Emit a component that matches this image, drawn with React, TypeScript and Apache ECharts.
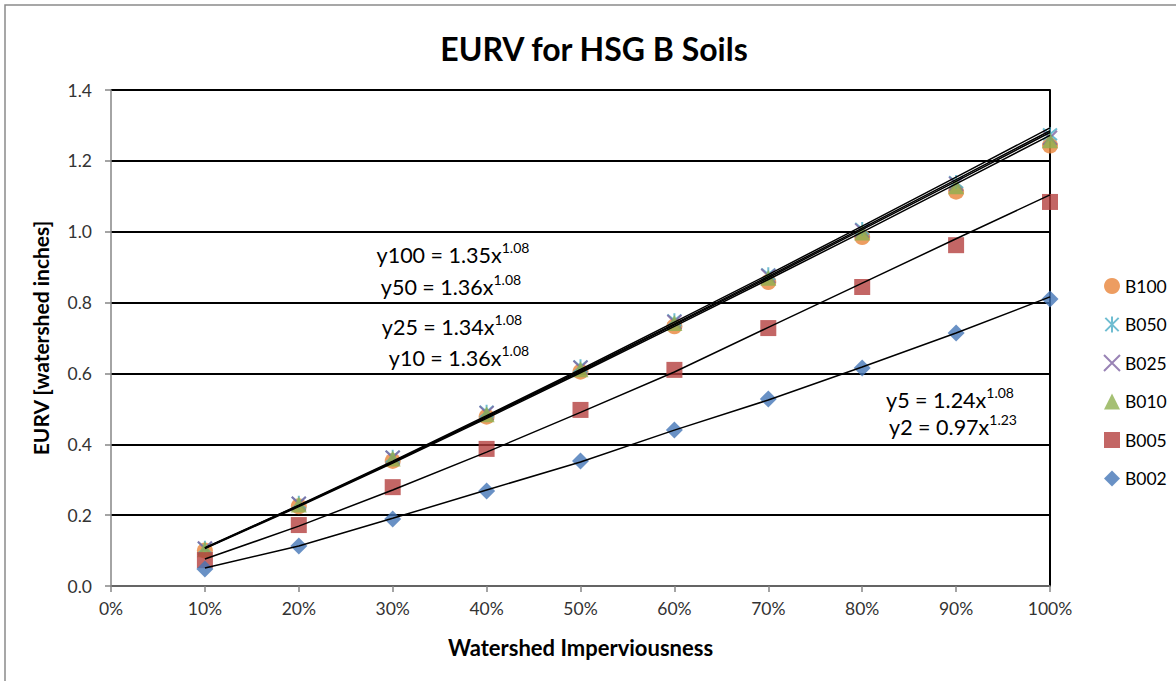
import React, { useEffect, useRef } from "react";
import * as echarts from "echarts";

const xValues = [0.1, 0.2, 0.3, 0.4, 0.5, 0.6, 0.7, 0.8, 0.9, 1.0];

const seriesNames = ["B100", "B050", "B025", "B010", "B005", "B002"];

const b100 = [0.100, 0.225, 0.353, 0.478, 0.605, 0.733, 0.858, 0.985, 1.113, 1.243];
const b050 = [0.108, 0.235, 0.365, 0.492, 0.620, 0.750, 0.880, 1.008, 1.140, 1.275];
const b025 = [0.106, 0.232, 0.362, 0.488, 0.616, 0.745, 0.875, 1.003, 1.135, 1.265];
const b010 = [0.104, 0.230, 0.360, 0.485, 0.612, 0.742, 0.870, 0.998, 1.128, 1.258];
const b005 = [0.073, 0.172, 0.279, 0.387, 0.497, 0.610, 0.728, 0.844, 0.962, 1.084];
const b002 = [0.048, 0.113, 0.189, 0.268, 0.353, 0.440, 0.528, 0.615, 0.714, 0.810];

// trendlines
const t100 = [0.106, 0.224, 0.347, 0.473, 0.602, 0.733, 0.865, 0.999, 1.135, 1.272];
const t050 = [0.108, 0.228, 0.352, 0.481, 0.611, 0.745, 0.879, 1.016, 1.154, 1.293];
const t025 = [0.107, 0.227, 0.350, 0.478, 0.608, 0.740, 0.874, 1.010, 1.147, 1.285];
const t010 = [0.107, 0.226, 0.349, 0.476, 0.605, 0.737, 0.870, 1.006, 1.142, 1.280];
const t005 = [0.076, 0.169, 0.271, 0.378, 0.490, 0.604, 0.730, 0.855, 0.980, 1.104];
const t002 = [0.051, 0.113, 0.191, 0.271, 0.350, 0.440, 0.525, 0.618, 0.714, 0.816];

const eqMain = ["y100 = 1.35x", "y50 = 1.36x", "y25 = 1.34x", "y10 = 1.36x", "y5 = 1.24x", "y2 = 0.97x"];
const eqExp = ["1.08", "1.08", "1.08", "1.08", "1.08", "1.23"];

const FONT = "Lato, 'Noto Sans', sans-serif";

const pts = (vals: number[]) => xValues.map((x, i) => [x, vals[i]]);

export default function App() {
  const ref = useRef<HTMLDivElement>(null);
  useEffect(() => {
    if (!ref.current) return;
    const chart = echarts.init(ref.current, null, { renderer: "svg" });

    const colors = ["#E8853A", "#4BACC6", "#8064A2", "#8EB050", "#B4403E", "#4375B6"];
    const symbols = [
      "circle",
      "path://M0,0L10,10M10,0L0,10M5,-1L5,11",
      "path://M0,0L10,10M10,0L0,10",
      "triangle",
      "rect",
      "diamond",
    ];
    const sizes = [16, 14, 14, 16, 16, 17];
    const values = [b100, b050, b025, b010, b005, b002];
    const trends = [t100, t050, t025, t010, t005, t002];

    const scatterSeries = seriesNames.map((name, i) => {
      const stroked = i === 1 || i === 2;
      return {
        name,
        type: "scatter",
        data: pts(values[i]),
        symbol: symbols[i],
        symbolSize: sizes[i],
        z: 2,
        itemStyle: stroked
          ? { color: "rgba(0,0,0,0)", borderColor: colors[i], borderWidth: 2 }
          : { color: colors[i] },
        emphasis: { disabled: true },
      };
    });

    const trendSeries = trends.map((t, i) => ({
      name: "trend" + i,
      type: "line",
      data: pts(t),
      showSymbol: false,
      symbol: "none",
      smooth: false,
      z: 3,
      lineStyle: { color: "#000", width: 1.5 },
      emphasis: { disabled: true },
      silent: true,
    }));

    const eqPos = [
      [453, 253],
      [451, 285],
      [452, 325],
      [459, 356],
      [950, 398],
      [953, 425],
    ];

    const eqGraphics = eqMain.map((m, i) => ({
      type: "text",
      x: eqPos[i][0],
      y: eqPos[i][1],
      z: 10,
      style: {
        text: "{a|" + m + "}{b|" + eqExp[i] + "}",
        align: "center",
        verticalAlign: "middle",
        rich: {
          a: { fontSize: 21.5, fontFamily: FONT, fill: "#000", lineHeight: 26, verticalAlign: "bottom" },
          b: { fontSize: 14, fontFamily: FONT, fill: "#000", lineHeight: 26, verticalAlign: "top" },
        },
      },
    }));

    chart.setOption({
      animation: false,
      backgroundColor: "#fff",
      color: colors,
      title: {
        text: "EURV for HSG B Soils",
        left: 589,
        top: 27,
        textAlign: "center",
        textStyle: { fontSize: 32, fontWeight: "bold", fontFamily: FONT, color: "#000" },
      },
      legend: {
        data: seriesNames,
        orient: "vertical",
        left: 1103,
        top: 277,
        padding: 0,
        itemWidth: 16,
        itemHeight: 16,
        itemGap: 20.5,
        textStyle: { fontSize: 17.5, fontFamily: FONT, color: "#000" },
        selectedMode: false,
      },
      grid: { left: 111, top: 90, width: 939, height: 496, containLabel: false },
      xAxis: {
        type: "value",
        min: 0,
        max: 1,
        interval: 0.1,
        name: "Watershed Imperviousness",
        nameLocation: "middle",
        nameGap: 50,
        nameTextStyle: { fontSize: 22, fontWeight: "bold", fontFamily: FONT, color: "#000" },
        axisLine: { show: true, onZero: false, lineStyle: { color: "#868686", width: 1.5 } },
        axisTick: { show: true, inside: false, length: 6, lineStyle: { color: "#868686", width: 1.5 } },
        axisLabel: {
          fontSize: 17.5,
          fontFamily: FONT,
          color: "#333",
          margin: 13,
          formatter: (v: number) => Math.round(v * 100) + "%",
        },
        splitLine: { show: false },
      },
      yAxis: [
        {
          type: "value",
          min: 0,
          max: 1.4,
          interval: 0.2,
          name: "EURV [watershed inches]",
          nameLocation: "middle",
          nameRotate: 90,
          nameGap: 60,
          nameTextStyle: { fontSize: 21, fontWeight: "bold", fontFamily: FONT, color: "#000" },
          axisLine: { show: true, lineStyle: { color: "#868686", width: 1.5 } },
          axisTick: { show: true, inside: false, length: 6, lineStyle: { color: "#868686", width: 1.5 } },
          axisLabel: {
            fontSize: 17.5,
            fontFamily: FONT,
            color: "#333",
            margin: 19,
            formatter: (v: number) => v.toFixed(1),
          },
          splitLine: { show: true, lineStyle: { color: "#000", width: 2 } },
        },
        {
          type: "value",
          position: "right",
          min: 0,
          max: 1.4,
          interval: 0.2,
          axisLine: { show: true, lineStyle: { color: "#000", width: 2 } },
          axisTick: { show: false },
          axisLabel: { show: false },
          splitLine: { show: false },
        },
      ],
      graphic: [
        {
          type: "rect",
          shape: { x: 5, y: 5, width: 1300, height: 800 },
          style: { fill: "none", stroke: "#8a8a8a", lineWidth: 1.5 },
          silent: true,
          z: -10,
        },
        ...eqGraphics,
      ],
      series: [...scatterSeries, ...trendSeries],
    });

    return () => chart.dispose();
  }, []);

  return (
    <div
      ref={ref}
      style={{ position: "fixed", left: 0, top: 0, width: 1176, height: 681 }}
    />
  );
}
